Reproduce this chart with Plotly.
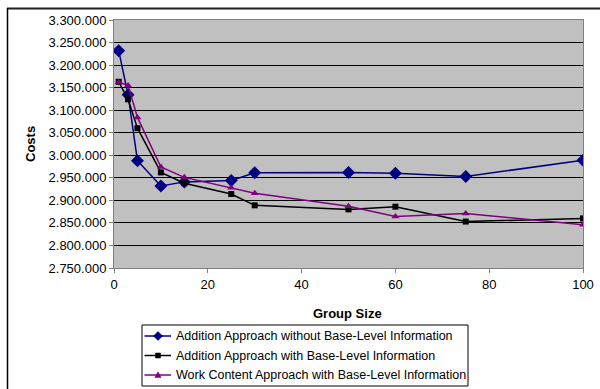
import plotly.graph_objects as go

# Group sizes evaluated
group_size = [1, 3, 5, 10, 15, 25, 30, 50, 60, 75, 100]

# Total costs per approach
costs_add_without = [3232000, 3134000, 2988000, 2932000, 2941000, 2944000,
                     2961000, 2962000, 2960000, 2953000, 2989000]
costs_add_with = [3163000, 3124000, 3060000, 2962000, 2938000, 2914000,
                  2889000, 2880000, 2886000, 2853000, 2860000]
costs_work_content = [3162000, 3155000, 3084000, 2974000, 2951000, 2928000,
                      2916000, 2887000, 2864000, 2871000, 2846000]

series_names = [
    "Addition Approach without Base-Level Information",
    "Addition Approach with Base-Level Information",
    "Work Content Approach with Base-Level Information",
]
series_colors = ["#000080", "#000000", "#800080"]
series_symbols = ["diamond", "square", "triangle-up"]
series_sizes = [10, 6, 7]
series_values = [costs_add_without, costs_add_with, costs_work_content]

y_ticks = list(range(2750000, 3300001, 50000))
y_tick_text = [f"{v:,}".replace(",", ".") for v in y_ticks]
x_ticks = [0, 20, 40, 60, 80, 100]

FONT = "Liberation Sans, Arial, sans-serif"

fig = go.Figure()
for name, vals, col, sym, size in zip(series_names, series_values, series_colors,
                                      series_symbols, series_sizes):
    fig.add_trace(go.Scatter(
        x=group_size, y=vals, name=name, mode="lines+markers",
        line=dict(color=col, width=1.5),
        marker=dict(symbol=sym, size=size, color=col),
        showlegend=False,
    ))

# Layout in pixels
L, R, T, B = 114, 17, 20, 121
W, H = 600, 389
pw, ph = W - L - R, H - T - B

def px(x):
    return (x - L) / pw

def py(y):
    return (H - B - y) / ph

shapes = [
    # chart frame
    dict(type="line", xref="paper", yref="paper", x0=px(7), x1=px(602),
         y0=py(8.5), y1=py(8.5), line=dict(color="#202020", width=2)),
    dict(type="line", xref="paper", yref="paper", x0=px(7.5), x1=px(7.5),
         y0=py(8), y1=py(392), line=dict(color="black", width=1.5)),
    # legend box
    dict(type="rect", xref="paper", yref="paper", x0=px(142), x1=px(468),
         y0=py(325), y1=py(386), line=dict(color="black", width=1),
         fillcolor="white"),
]
annotations = [
    dict(text="<b>Costs</b>", x=px(30), y=0.5, xref="paper", yref="paper",
         textangle=-90, showarrow=False, font=dict(size=13),
         xanchor="center", yanchor="middle"),
    dict(text="<b>Group Size</b>", x=px(347), y=py(313), xref="paper", yref="paper",
         showarrow=False, font=dict(size=13), xanchor="center", yanchor="middle"),
]

# Legend entries: line sample, marker glyph, label
def glyph_path(sym, cx, cy):
    if sym == "diamond":
        r = 4.5
        pts = [(cx, cy - r), (cx + r, cy), (cx, cy + r), (cx - r, cy)]
    elif sym == "square":
        r = 2.5
        pts = [(cx - r, cy - r), (cx + r, cy - r), (cx + r, cy + r), (cx - r, cy + r)]
    else:
        r = 3.2
        pts = [(cx, cy - r), (cx + r, cy + r * 0.8), (cx - r, cy + r * 0.8)]
    return "M " + " L ".join(f"{px(x):.5f},{py(y):.5f}" for x, y in pts) + " Z"

legend_rows = [336, 355.5, 375]
for name, col, sym, ly in zip(series_names, series_colors, series_symbols, legend_rows):
    shapes.append(dict(type="line", xref="paper", yref="paper", x0=px(144.5), x1=px(171),
                       y0=py(ly), y1=py(ly), line=dict(color=col, width=1.5)))
    shapes.append(dict(type="path", xref="paper", yref="paper",
                       path=glyph_path(sym, 158, ly), fillcolor=col,
                       line=dict(color=col, width=0.5)))
    annotations.append(dict(text=name, x=px(174), y=py(ly), xref="paper", yref="paper",
                            showarrow=False, font=dict(size=12.5),
                            xanchor="left", yanchor="middle"))

fig.update_layout(
    width=W, height=H,
    margin=dict(l=L, r=R, t=T, b=B, pad=0, autoexpand=False),
    paper_bgcolor="white",
    plot_bgcolor="#c0c0c0",
    font=dict(family=FONT, size=13, color="black"),
    showlegend=False,
    xaxis=dict(
        range=[0, 100], tickvals=x_ticks, showgrid=False, zeroline=False,
        showline=True, linecolor="#808080", linewidth=1, mirror=True,
        ticks="outside", ticklen=4, tickcolor="#808080",
        tickfont=dict(size=13),
    ),
    yaxis=dict(
        range=[2750000, 3300000], tickvals=y_ticks, ticktext=y_tick_text,
        showgrid=True, gridcolor="black", gridwidth=1, zeroline=False,
        showline=True, linecolor="#808080", linewidth=1, mirror=True,
        ticks="outside", ticklen=4, tickcolor="#808080",
        tickfont=dict(size=13),
    ),
    annotations=annotations,
    shapes=shapes,
)

fig.write_html("out.html")
